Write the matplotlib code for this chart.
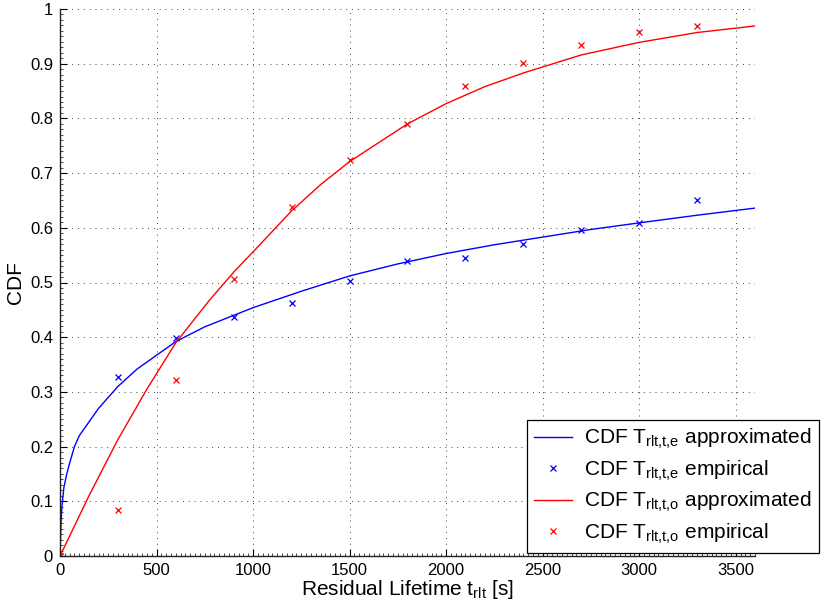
import matplotlib
matplotlib.use("Agg")
import matplotlib.pyplot as plt
from matplotlib.ticker import MultipleLocator

plt.rcParams['font.family'] = ['Liberation Sans', 'DejaVu Sans']
plt.rcParams['mathtext.fontset'] = 'custom'
plt.rcParams['mathtext.rm'] = 'Liberation Sans'
plt.rcParams['mathtext.it'] = 'Liberation Sans:italic'
plt.rcParams['mathtext.bf'] = 'Liberation Sans:bold'

# approximated CDF curves
x_fit_e = [0, 5, 10, 20, 35, 50, 75, 100, 150, 200, 300, 400, 500, 600, 750, 900,
           1000, 1250, 1500, 1750, 2000, 2250, 2500, 2750, 3000, 3300, 3600]
y_fit_e = [0, 0.06, 0.09, 0.125, 0.15, 0.17, 0.20, 0.22, 0.245, 0.27, 0.31, 0.342,
           0.367, 0.392, 0.419, 0.44, 0.454, 0.484, 0.512, 0.534, 0.553, 0.569,
           0.583, 0.597, 0.609, 0.623, 0.636]

x_fit_o = [0, 150, 300, 450, 600, 775, 900, 1000, 1200, 1350, 1500, 1800, 2000, 2200,
           2400, 2700, 3000, 3300, 3600]
y_fit_o = [0, 0.11, 0.213, 0.305, 0.39, 0.468, 0.519, 0.556, 0.631, 0.679, 0.721, 0.790,
           0.827, 0.858, 0.883, 0.916, 0.939, 0.957, 0.969]

# empirical points
x_emp = [0, 300, 600, 900, 1200, 1500, 1800, 2100, 2400, 2700, 3000, 3300]
y_emp_e = [0, 0.327, 0.398, 0.437, 0.463, 0.502, 0.540, 0.545, 0.570, 0.596, 0.608, 0.650]
y_emp_o = [0, 0.085, 0.321, 0.506, 0.638, 0.724, 0.790, 0.860, 0.902, 0.934, 0.958, 0.969]

labels = [r'CDF T$_{\mathrm{rlt{,}t{,}e}}$ approximated',
          r'CDF T$_{\mathrm{rlt{,}t{,}e}}$ empirical',
          r'CDF T$_{\mathrm{rlt{,}t{,}o}}$ approximated',
          r'CDF T$_{\mathrm{rlt{,}t{,}o}}$ empirical']

W, H = 829, 610
fig = plt.figure(figsize=(W / 100, H / 100), dpi=100)
ax = fig.add_axes([60 / W, (H - 556) / H, (755 - 60) / W, (556 - 9) / H])

blue = '#0000ff'
red = '#ff0000'
ax.plot(x_fit_e, y_fit_e, color=blue, lw=1.0, label=labels[0])
ax.plot(x_emp, y_emp_e, ls='none', marker='x', color=blue, ms=5, mew=0.9, label=labels[1])
ax.plot(x_fit_o, y_fit_o, color=red, lw=1.0, label=labels[2])
ax.plot(x_emp, y_emp_o, ls='none', marker='x', color=red, ms=5, mew=0.9, label=labels[3])

ax.set_xlim(0, 3600)
ax.set_ylim(0, 1)
ax.set_xticks(range(0, 3600, 500))
ax.set_yticks([i / 10 for i in range(11)])
ax.set_yticklabels(['0', '0.1', '0.2', '0.3', '0.4', '0.5', '0.6', '0.7', '0.8', '0.9', '1'])
ax.xaxis.set_minor_locator(MultipleLocator(25))
ax.yaxis.set_minor_locator(MultipleLocator(0.01))

for s in ['top', 'right']:
    ax.spines[s].set_visible(False)
for s in ['left', 'bottom']:
    ax.spines[s].set_linewidth(1.0)
    ax.spines[s].set_color('#222222')

ax.tick_params(which='major', direction='in', length=5, width=0.8, labelsize=12, pad=5)
ax.tick_params(which='minor', direction='in', length=2, width=0.5)
ax.tick_params(axis='y', which='major', pad=5)

ax.grid(True, which='major', color='#444444', linestyle=(0, (1, 5)), linewidth=0.7)

ax.set_xlabel(r'Residual Lifetime t$_{\mathrm{rlt}}$ [s]', fontsize=15)
ax.set_ylabel('CDF', fontsize=15)
ax.xaxis.set_label_coords(0.5, -0.040)
ax.yaxis.set_label_coords(-0.050, 0.5)

leg = ax.legend(loc='lower left', bbox_to_anchor=(527 / W, 57 / H),
                bbox_transform=fig.transFigure, borderaxespad=0,
                fontsize=15, frameon=True, fancybox=False, framealpha=1,
                edgecolor='black', handlelength=1.8, handletextpad=0.6,
                labelspacing=0.35, borderpad=0.35)
leg.get_frame().set_linewidth(0.9)

fig.savefig('out.png', dpi=100)
